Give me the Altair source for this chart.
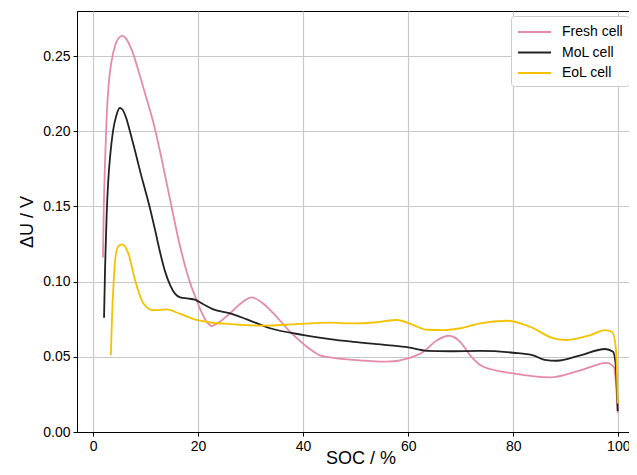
import altair as alt
import pandas as pd

# Fresh cell
fresh_soc = [1.9, 2.0, 2.3, 2.6, 3.0, 3.5, 4.2, 5.0, 5.6, 6.5, 7.0, 7.6, 8.5, 9.5, 10.5, 11.4,
             13.1, 14.7, 16.6, 18.5, 19.8, 20.6, 21.5, 22.6, 24.0, 26.1, 28.3, 30.2, 32.2, 34.3,
             37.5, 40.7, 43.2, 45.1, 49.5, 56.0, 60.0, 62.9, 65.5, 67.7, 69.9, 71.8, 74.3, 80.0,
             87.0, 92.8, 97.8, 99.2, 99.6, 99.9]
fresh_du = [0.116, 0.140, 0.181, 0.210, 0.232, 0.246, 0.257, 0.2625, 0.2635, 0.2605, 0.257,
            0.252, 0.242, 0.230, 0.218, 0.207, 0.181, 0.154, 0.123, 0.099, 0.087, 0.080, 0.074,
            0.0705, 0.073, 0.079, 0.086, 0.0895, 0.086, 0.079, 0.0667, 0.0567, 0.051, 0.0497,
            0.048, 0.0468, 0.049, 0.0534, 0.061, 0.064, 0.060, 0.051, 0.0434, 0.039, 0.0363,
            0.041, 0.046, 0.043, 0.030, 0.0126]

# MoL cell
mol_soc = [2.1, 2.3, 2.6, 2.9, 3.3, 3.8, 4.4, 5.1, 5.6, 6.3, 7.1, 8.0, 9.0, 10.0, 10.9, 11.9,
           12.8, 13.7, 14.7, 15.6, 16.6, 18.0, 19.4, 21.0, 22.9, 26.1, 29.3, 33.7, 40.1, 45.1,
           49.5, 56.0, 60.0, 63.6, 68.0, 73.7, 80.0, 83.8, 86.0, 88.3, 92.8, 97.5, 99.0, 99.5,
           99.9]
mol_du = [0.076, 0.110, 0.145, 0.167, 0.185, 0.200, 0.210, 0.2155, 0.2145, 0.209, 0.199, 0.187,
          0.173, 0.160, 0.148, 0.133, 0.119, 0.107, 0.0975, 0.092, 0.0895, 0.0888, 0.088, 0.085,
          0.0816, 0.0789, 0.0749, 0.069, 0.0645, 0.0618, 0.060, 0.0578, 0.0563, 0.054, 0.0537,
          0.0539, 0.0527, 0.051, 0.048, 0.0474, 0.051, 0.0552, 0.0534, 0.045, 0.014]

# EoL cell
eol_soc = [3.4, 3.6, 3.9, 4.2, 4.8, 5.5, 6.7, 8.0, 9.6, 11.5, 14.0, 16.6, 19.7, 22.0, 26.1, 32.4,
           38.8, 45.1, 49.5, 54.0, 57.8, 61.0, 63.5, 66.7, 70.0, 73.7, 78.8, 83.2, 87.7, 90.2,
           94.7, 97.5, 98.8, 99.4, 99.7, 99.9]
eol_du = [0.051, 0.075, 0.098, 0.114, 0.1235, 0.1248, 0.119, 0.101, 0.0855, 0.081, 0.0815,
          0.0785, 0.0745, 0.073, 0.0718, 0.0707, 0.0718, 0.0727, 0.0722, 0.073, 0.0745, 0.0711,
          0.068, 0.0678, 0.069, 0.0723, 0.074, 0.070, 0.0623, 0.0612, 0.0645, 0.0678, 0.0667,
          0.060, 0.045, 0.019]

series_names = ["Fresh cell", "MoL cell", "EoL cell"]
series_colors = ["#e68aab", "#222222", "#f5c200"]

frames = []
for name, xs, ys in [("Fresh cell", fresh_soc, fresh_du),
                     ("MoL cell", mol_soc, mol_du),
                     ("EoL cell", eol_soc, eol_du)]:
    frames.append(pd.DataFrame({"SOC": xs, "dU": ys, "cell": name, "order": range(len(xs))}))
df = pd.concat(frames, ignore_index=True)

font = "Liberation Sans"

chart = alt.Chart(df).mark_line(strokeWidth=1.8, interpolate="monotone", clip=True).encode(
    x=alt.X("SOC:Q", title="SOC / %",
            scale=alt.Scale(domain=[-3.05, 104.9], nice=False, zero=False),
            axis=alt.Axis(values=[0, 20, 40, 60, 80, 100], format="d",
                          titleBaseline="alphabetic", titleY=31)),
    y=alt.Y("dU:Q", title="ΔU / V",
            scale=alt.Scale(domain=[0, 0.28], nice=False),
            axis=alt.Axis(values=[0, 0.05, 0.10, 0.15, 0.20, 0.25], format=".2f")),
    color=alt.Color("cell:N", sort=series_names,
                    scale=alt.Scale(domain=series_names, range=series_colors),
                    legend=alt.Legend(title=None, orient="none", legendX=434, legendY=5,
                                      symbolType="M-1,0H2.67", symbolSize=324,
                                      symbolStrokeWidth=2,
                                      labelFontSize=14, labelFont=font, labelColor="#000",
                                      fillColor="white", strokeColor="#cccccc", cornerRadius=3,
                                      padding=6, rowPadding=3.5, labelOffset=25)),
    detail="cell:N",
    order="order:Q",
).properties(
    width=567, height=421,
    autosize=alt.AutoSizeParams(type="none"),
    padding={"left": 69, "top": 3, "right": -15, "bottom": 35},
).configure_view(
    stroke="black", strokeWidth=1
).configure_axis(
    labelFont=font, titleFont=font, labelFontSize=14, titleFontSize=18,
    labelColor="#000", titleColor="#000", titleFontWeight="normal",
    grid=True, gridColor="#c8c8c8", gridWidth=1.2,
    domain=True, domainColor="black", tickColor="black", tickSize=4,
    labelPadding=3,
).configure_axisY(
    titlePadding=6
)

chart.save("out.html", embed_options={"renderer": "svg", "actions": False})
